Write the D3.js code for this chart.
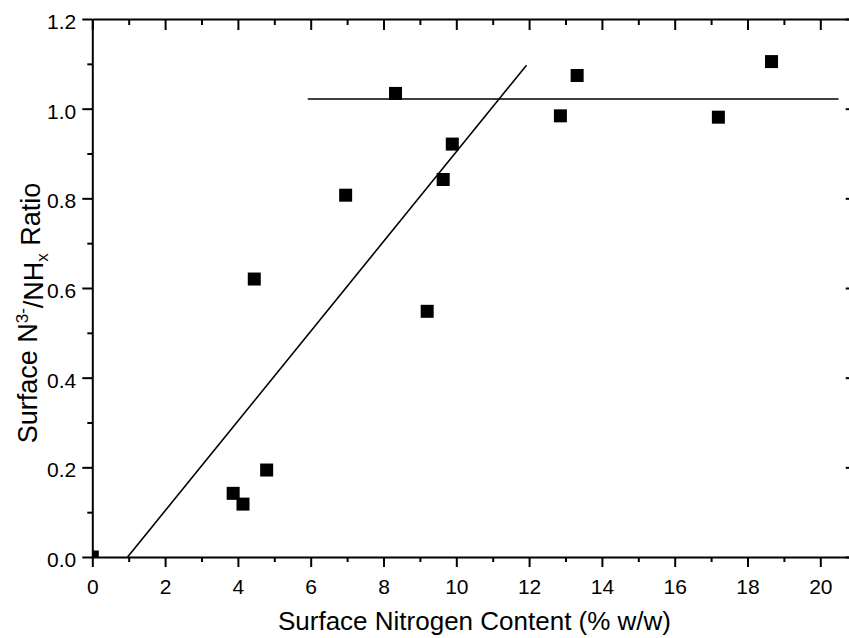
<!DOCTYPE html>
<html>
<head>
<meta charset="utf-8">
<script src="https://cdn.jsdelivr.net/npm/d3@7"></script>
<style>
  html, body { margin: 0; padding: 0; background: #fff; }
  svg { display: block; font-family: "Liberation Sans", Arial, sans-serif; }
</style>
</head>
<body>
<svg id="chart" width="849" height="638"></svg>
<script>
// Surface nitrogen content (% w/w) and measured N3-/NHx ratio
const nitrogenContent = [0.0, 3.87, 4.14, 4.45, 4.79, 6.96, 8.33, 9.20, 9.64, 9.89, 12.86, 13.32, 17.20, 18.66];
const ratio           = [0.0, 0.142, 0.118, 0.620, 0.194, 0.807, 1.034, 0.548, 0.842, 0.921, 0.984, 1.074, 0.981, 1.105];

// Fitted trend lines: rising linear segment and plateau
const riseLineX = [0.97, 11.93];
const riseLineY = [0.0, 1.097];
const plateauX  = [5.92, 20.5];
const plateauY  = [1.0216, 1.0216];

// Axis ticks
const xMajorTicks = [0, 2, 4, 6, 8, 10, 12, 14, 16, 18, 20];
const xMinorTicks = [1, 3, 5, 7, 9, 11, 13, 15, 17, 19, 21];
const yMajorTicks = [0.0, 0.2, 0.4, 0.6, 0.8, 1.0, 1.2];
const yMinorTicks = [0.1, 0.3, 0.5, 0.7, 0.9, 1.1];

const svg = d3.select("#chart");
const x = d3.scaleLinear().domain([0, 21]).range([92.3, 856.7]);
const y = d3.scaleLinear().domain([0, 1.2]).range([557, 19]);

const [x0, x1] = x.range();
const [y0, y1] = y.range();

svg.append("defs").append("clipPath").attr("id", "plotClip")
  .append("rect").attr("x", x0).attr("y", y1).attr("width", x1 - x0).attr("height", y0 - y1);

// Fit lines
const line = d3.line().x(d => x(d[0])).y(d => y(d[1]));
const plot = svg.append("g").attr("clip-path", "url(#plotClip)");
plot.append("path")
  .datum(d3.zip(riseLineX, riseLineY))
  .attr("d", line).attr("fill", "none").attr("stroke", "#000").attr("stroke-width", 1.6);
plot.append("path")
  .datum(d3.zip(plateauX, plateauY))
  .attr("d", line).attr("fill", "none").attr("stroke", "#000").attr("stroke-width", 1.6);

// Data markers
const sq = 13;
plot.selectAll("rect.pt")
  .data(d3.zip(nitrogenContent, ratio))
  .join("rect")
  .attr("class", "pt")
  .attr("x", d => x(d[0]) - sq / 2)
  .attr("y", d => y(d[1]) - sq / 2)
  .attr("width", sq).attr("height", sq)
  .attr("fill", "#000");

// Axes
function styleAxis(g, showLabels) {
  g.select(".domain").attr("stroke", "#000").attr("stroke-width", 2);
  g.selectAll(".tick line").attr("stroke", "#000").attr("stroke-width", 2);
  g.selectAll(".tick text").attr("fill", "#000").style("font-size", "21px")
    .style("font-family", "'Liberation Sans', Arial, sans-serif");
  if (!showLabels) g.selectAll(".tick text").remove();
}
function minorTicks(g) {
  g.select(".domain").remove();
  g.selectAll("line").attr("stroke", "#000").attr("stroke-width", 2);
}

const fmtY = d3.format(".1f");

// bottom axis
const axBottom = svg.append("g").attr("transform", `translate(0,${y0})`);
axBottom.call(d3.axisBottom(x).tickValues(xMajorTicks).tickSize(10).tickSizeOuter(0).tickPadding(12).tickFormat(d3.format("d")));
styleAxis(axBottom, true);
axBottom.append("g").call(d3.axisBottom(x).tickValues(xMinorTicks).tickSize(5).tickSizeOuter(0).tickFormat("")).call(minorTicks);

// top axis (ticks pointing inward)
const axTop = svg.append("g").attr("transform", `translate(0,${y1})`);
axTop.call(d3.axisBottom(x).tickValues(xMajorTicks).tickSize(11).tickSizeOuter(0).tickFormat(""));
styleAxis(axTop, false);
axTop.append("g").call(d3.axisBottom(x).tickValues(xMinorTicks).tickSize(6).tickSizeOuter(0).tickFormat("")).call(minorTicks);

// left axis
const axLeft = svg.append("g").attr("transform", `translate(${x0},0)`);
axLeft.call(d3.axisLeft(y).tickValues(yMajorTicks).tickSize(10).tickSizeOuter(0).tickPadding(6).tickFormat(fmtY));
styleAxis(axLeft, true);
axLeft.selectAll(".tick text").attr("dy", "0.45em");
axLeft.append("g").call(d3.axisLeft(y).tickValues(yMinorTicks).tickSize(5).tickSizeOuter(0).tickFormat("")).call(minorTicks);

// right axis (ticks pointing inward)
const axRight = svg.append("g").attr("transform", `translate(${x1},0)`);
axRight.call(d3.axisLeft(y).tickValues(yMajorTicks).tickSize(11).tickSizeOuter(0).tickFormat(""));
styleAxis(axRight, false);
axRight.append("g").call(d3.axisLeft(y).tickValues(yMinorTicks).tickSize(5).tickSizeOuter(0).tickFormat("")).call(minorTicks);

// Axis titles
svg.append("text")
  .attr("x", (x0 + x1) / 2).attr("y", 630)
  .attr("text-anchor", "middle")
  .style("font-size", "26px").attr("fill", "#000")
  .text("Surface Nitrogen Content (% w/w)");

const yTitle = svg.append("text")
  .attr("transform", "translate(37,313) rotate(-90)")
  .attr("text-anchor", "middle")
  .style("font-size", "27px").attr("fill", "#000");
yTitle.append("tspan").text("Surface N");
yTitle.append("tspan").attr("dy", "-0.55em").style("font-size", "17px").text("3-");
yTitle.append("tspan").attr("dy", "0.55em").text("/NH");
yTitle.append("tspan").attr("dy", "0.3em").style("font-size", "17px").text("x");
yTitle.append("tspan").attr("dy", "-0.3em").text(" Ratio");
</script>
</body>
</html>
